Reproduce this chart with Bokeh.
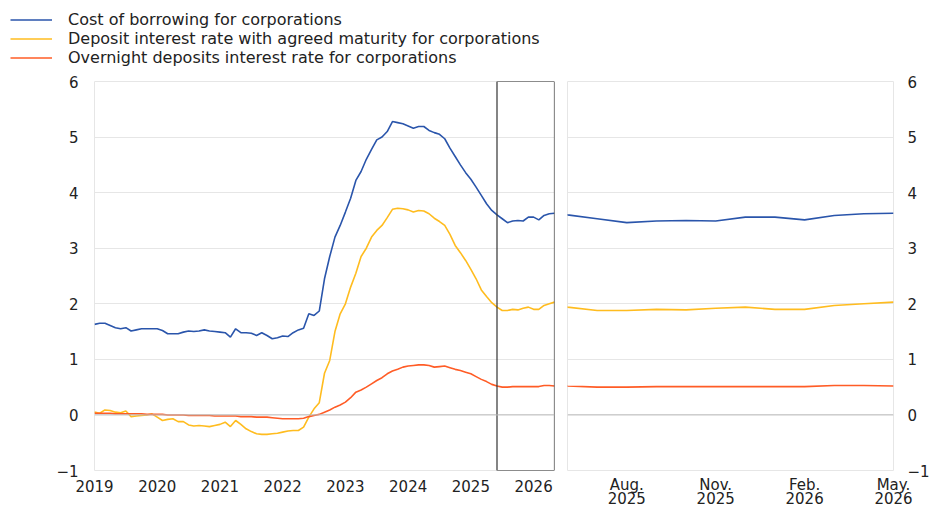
import numpy as np
from bokeh.plotting import figure
from bokeh.layouts import column, row
from bokeh.models import FixedTicker, Legend, LegendItem, Range1d, Span, ColumnDataSource, LinearAxis
from bokeh.embed import file_html
from bokeh.resources import INLINE

# month index: 0 = Jan 2019 ... 88 = May 2026
months = list(range(89))

cost_borrowing = [
    1.63, 1.65, 1.65, 1.61, 1.57, 1.55, 1.57, 1.51, 1.53, 1.55, 1.55, 1.55,
    1.55, 1.52, 1.46, 1.46, 1.46, 1.49, 1.51, 1.50, 1.51, 1.53, 1.51, 1.50,
    1.49, 1.48, 1.40, 1.55, 1.48, 1.48, 1.47, 1.43, 1.48, 1.43, 1.37, 1.39,
    1.42, 1.41, 1.48, 1.53, 1.56, 1.82, 1.79, 1.87, 2.45, 2.85, 3.20, 3.41,
    3.65, 3.90, 4.22, 4.38, 4.60, 4.78, 4.95, 5.00, 5.10, 5.28, 5.26, 5.24,
    5.20, 5.16, 5.19, 5.19, 5.12, 5.08, 5.05, 4.97, 4.80, 4.65, 4.50, 4.36,
    4.24, 4.10, 3.95, 3.80, 3.68, 3.60, 3.53, 3.46, 3.49, 3.50, 3.49, 3.56,
    3.56, 3.51, 3.59, 3.62, 3.63,
]
deposit_agreed = [
    0.05, 0.03, 0.09, 0.08, 0.05, 0.04, 0.07, -0.03, -0.02, -0.01, 0.00, 0.02,
    -0.04, -0.10, -0.08, -0.07, -0.12, -0.12, -0.18, -0.20, -0.19, -0.20, -0.21, -0.19,
    -0.17, -0.13, -0.21, -0.10, -0.17, -0.25, -0.30, -0.34, -0.35, -0.35, -0.34, -0.33,
    -0.31, -0.29, -0.28, -0.28, -0.22, -0.04, 0.11, 0.22, 0.75, 0.98, 1.50, 1.82,
    2.00, 2.30, 2.55, 2.85, 3.00, 3.20, 3.32, 3.41, 3.55, 3.70, 3.72, 3.71,
    3.69, 3.65, 3.68, 3.67, 3.62, 3.54, 3.48, 3.41, 3.25, 3.05, 2.92, 2.78,
    2.62, 2.45, 2.25, 2.13, 2.02, 1.94, 1.88, 1.88, 1.90, 1.89, 1.92, 1.94,
    1.90, 1.90, 1.97, 2.00, 2.03,
]
overnight = [
    0.03, 0.03, 0.03, 0.03, 0.02, 0.02, 0.02, 0.02, 0.02, 0.02, 0.01, 0.01,
    0.01, 0.01, 0.00, 0.00, 0.00, 0.00, -0.01, -0.01, -0.01, -0.01, -0.01, -0.02,
    -0.02, -0.02, -0.02, -0.02, -0.03, -0.03, -0.03, -0.04, -0.04, -0.04, -0.05, -0.06,
    -0.07, -0.07, -0.07, -0.07, -0.06, -0.03, -0.01, 0.01, 0.05, 0.09, 0.14, 0.18,
    0.23, 0.31, 0.41, 0.45, 0.50, 0.56, 0.62, 0.67, 0.74, 0.79, 0.82, 0.86,
    0.88, 0.89, 0.90, 0.90, 0.89, 0.86, 0.87, 0.88, 0.85, 0.82, 0.80, 0.77,
    0.74, 0.69, 0.64, 0.60, 0.55, 0.52, 0.50, 0.50, 0.51, 0.51, 0.51, 0.51,
    0.51, 0.51, 0.53, 0.53, 0.52,
]

series_names = [
    "Cost of borrowing for corporations",
    "Deposit interest rate with agreed maturity for corporations",
    "Overnight deposits interest rate for corporations",
]
series_colors = ["#2a55ab", "#ffbc1f", "#ff5c26"]

year_ticks = [0, 12, 24, 36, 48, 60, 72, 84]
year_labels = ["2019", "2020", "2021", "2022", "2023", "2024", "2025", "2026"]
zoom_ticks = [79, 82, 85, 88]
zoom_month_labels = ["Aug.", "Nov.", "Feb.", "May."]
zoom_year_labels = ["2025", "2025", "2026", "2026"]
y_ticks = [-1, 0, 1, 2, 3, 4, 5, 6]
y_labels = ["\u22121", "0", "1", "2", "3", "4", "5", "6"]
zoom_start = 77  # Jun 2025

FONT = "DejaVu Sans"
TXT = "#222222"
GRID = "#e6e6e6"

src = ColumnDataSource(dict(m=months, a=cost_borrowing, b=deposit_agreed, c=overnight))
cols = ["a", "b", "c"]


def style_axis(ax):
    ax.major_tick_line_color = None
    ax.minor_tick_line_color = None
    ax.major_tick_out = 0
    ax.major_tick_in = 0
    ax.minor_tick_out = 0
    ax.axis_label_standoff = 0
    ax.axis_line_color = None
    ax.major_label_text_font = FONT
    ax.major_label_text_font_size = "15px"
    ax.major_label_text_color = TXT


def style_common(p):
    p.outline_line_color = GRID
    p.xgrid.visible = False
    p.ygrid.ticker = FixedTicker(ticks=y_ticks)
    p.ygrid.grid_line_color = GRID
    p.ygrid.grid_line_width = 1
    for ax in p.axis:
        style_axis(ax)
    p.add_layout(Span(location=0, dimension="width", line_color="#bdbdbd", line_width=1))
    for col, colr in zip(cols, series_colors):
        p.line("m", col, source=src, line_color=colr, line_width=1.6)


BOTTOM = 36
H = 433

p1 = figure(width=557, height=H, x_range=Range1d(months[0], months[-1]), y_range=Range1d(y_ticks[0], y_ticks[-1]),
            output_backend="svg", toolbar_location=None,
            min_border_left=94, min_border_right=3, min_border_top=8, min_border_bottom=BOTTOM)
style_common(p1)
p1.yaxis.ticker = FixedTicker(ticks=y_ticks)
p1.yaxis.major_label_overrides = dict(zip(y_ticks, y_labels))
p1.yaxis.major_label_standoff = 16
p1.xaxis.ticker = FixedTicker(ticks=year_ticks)
p1.xaxis.major_label_overrides = dict(zip(year_ticks, year_labels))
p1.xaxis.major_label_standoff = 9
p1.quad(left=months[zoom_start], right=months[-1], bottom=y_ticks[0], top=y_ticks[-1],
        fill_alpha=0, line_color="#333333", line_width=1.2)

p2 = figure(width=375, height=H, x_range=Range1d(months[zoom_start], months[-1]), y_range=Range1d(y_ticks[0], y_ticks[-1]),
            y_axis_location="right", output_backend="svg", toolbar_location=None,
            min_border_left=10, min_border_right=35, min_border_top=8, min_border_bottom=BOTTOM)
style_common(p2)
p2.yaxis.ticker = FixedTicker(ticks=y_ticks)
p2.yaxis.major_label_overrides = dict(zip(y_ticks, y_labels))
p2.yaxis.major_label_standoff = 14
month_axis = p2.xaxis[0]
month_axis.ticker = FixedTicker(ticks=zoom_ticks)
month_axis.major_label_overrides = dict(zip(zoom_ticks, zoom_month_labels))
month_axis.major_label_standoff = 5
year_axis = LinearAxis(ticker=FixedTicker(ticks=zoom_ticks),
                       major_label_overrides=dict(zip(zoom_ticks, zoom_year_labels)))
style_axis(year_axis)
year_axis.major_label_standoff = -5
p2.add_layout(year_axis, "below")

# legend strip: lines use the same data but sit outside this strip's visible x-range
pl = figure(width=932, height=73, x_range=Range1d(-3, -2), y_range=Range1d(0, 1),
            x_axis_type=None, y_axis_type=None, output_backend="svg", toolbar_location=None,
            min_border=0)
pl.outline_line_color = None
pl.grid.visible = False
items = []
for col, name, colr in zip(cols, series_names, series_colors):
    r = pl.line("m", col, source=src, line_color=colr, line_width=1.6)
    items.append(LegendItem(label=name, renderers=[r]))
legend = Legend(items=items, location="top_left", margin=8, padding=2, glyph_width=42, glyph_height=19,
                label_height=19, label_standoff=16, spacing=0, border_line_alpha=0, background_fill_alpha=0,
                label_text_font=FONT, label_text_font_size="16px", label_text_color=TXT)
pl.add_layout(legend, "center")

layout = column(pl, row(p1, p2))
open("out.html", "w").write(file_html(layout, INLINE))
